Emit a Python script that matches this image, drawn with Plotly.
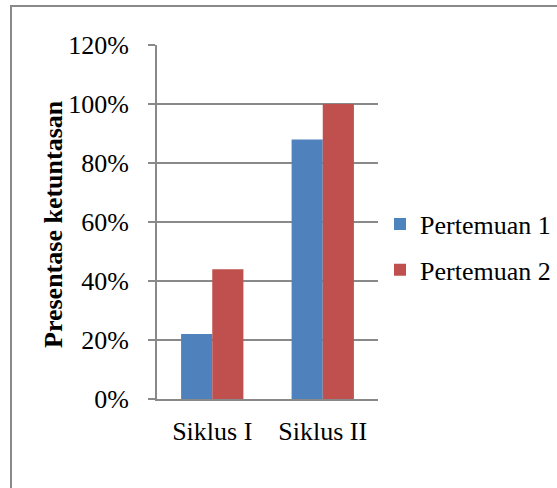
import plotly.graph_objects as go

# Persentase ketuntasan per siklus
categories = ["Siklus I", "Siklus II"]
pertemuan_1 = [0.22, 0.88]
pertemuan_2 = [0.44, 1.00]
series_names = ["Pertemuan 1", "Pertemuan 2"]
y_ticks = [0, 0.2, 0.4, 0.6, 0.8, 1.0, 1.2]
y_tick_labels = ["0%", "20%", "40%", "60%", "80%", "100%", "120%"]

FONT = "Liberation Serif, Times New Roman, serif"
GRID = "#898989"
W, H = 557, 488
L, R, T, B = 157, 179, 45, 89
pw, ph = W - L - R, H - T - B


def px_x(p):
    return (p - L) / pw


def px_y(p):
    return (H - B - p) / ph


fig = go.Figure()
fig.add_trace(go.Bar(x=categories, y=pertemuan_1, name=series_names[0],
                     marker=dict(color="#4F81BD", line=dict(width=0)),
                     legendgroup="p1"))
fig.add_trace(go.Bar(x=categories, y=pertemuan_2, name=series_names[1],
                     marker=dict(color="#C0504D", line=dict(width=0)),
                     legendgroup="p2"))

fig.update_layout(
    width=W, height=H,
    margin=dict(l=L, r=R, t=T, b=B, autoexpand=False),
    paper_bgcolor="white", plot_bgcolor="white",
    barmode="group", bargap=0.436, bargroupgap=0,
    font=dict(family=FONT, size=26, color="black"),
    legend=dict(x=px_x(380), y=px_y(247), xanchor="left", yanchor="middle",
                font=dict(family=FONT, size=26, color="black"),
                bgcolor="rgba(0,0,0,0)", borderwidth=0, itemwidth=30,
                tracegroupgap=9, traceorder="grouped"),
    xaxis=dict(showline=True, linecolor=GRID, linewidth=2, ticks="",
               showgrid=False, tickfont=dict(size=26), ticklabelstandoff=8),
    yaxis=dict(range=[0, 1.2], tickvals=y_ticks, ticktext=y_tick_labels,
               showline=True, linecolor=GRID, linewidth=2,
               ticks="outside", ticklen=7, tickcolor=GRID, tickwidth=2,
               showgrid=True, gridcolor=GRID, gridwidth=2,
               zeroline=False, ticklabelstandoff=14,
               tickfont=dict(size=26)),
    annotations=[dict(text="<b>Presentase ketuntasan</b>", textangle=-90,
                      xref="paper", yref="paper", x=px_x(53), y=px_y(224),
                      xanchor="center", yanchor="middle", showarrow=False,
                      font=dict(family=FONT, size=26, color="black"))],
    shapes=[dict(type="rect", xref="paper", yref="paper",
                 x0=px_x(11), x1=px_x(W + 20), y0=px_y(H + 20), y1=px_y(6),
                 line=dict(color=GRID, width=2), fillcolor="rgba(0,0,0,0)",
                 layer="below")],
)

fig.write_html("out.html")
